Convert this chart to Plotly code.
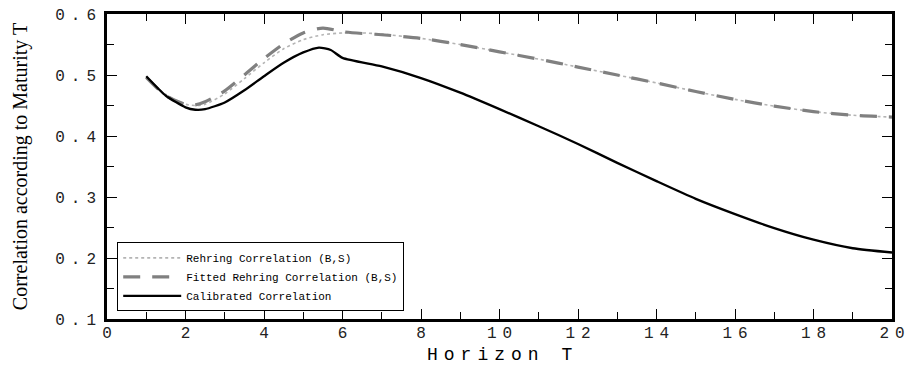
import plotly.graph_objects as go

# ---- data ----
x_cal = [1.0, 1.5, 2.0, 2.25, 2.5, 3.0, 3.5, 4.0, 4.5, 5.0, 5.4, 5.7, 6.0,
         7.0, 8.0, 9.0, 10.0, 11.0, 12.0, 13.0, 14.0, 15.0, 16.0, 17.0, 18.0, 19.0, 20.0]
y_cal = [0.498, 0.466, 0.447, 0.443, 0.444, 0.455, 0.475, 0.498, 0.520, 0.537, 0.545, 0.541, 0.528,
         0.514, 0.495, 0.471, 0.444, 0.416, 0.387, 0.356, 0.326, 0.297, 0.272, 0.249, 0.230, 0.216, 0.209]

x_reh = [1.0, 1.5, 2.0, 2.3, 2.5, 3.0, 3.5, 4.0, 4.5, 5.0, 5.5, 6.0, 6.5, 7.0,
         8.0, 9.0, 10.0, 11.0, 12.0, 13.0, 14.0, 15.0, 16.0, 17.0, 18.0, 19.0, 20.0]
y_reh = [0.495, 0.468, 0.452, 0.450, 0.452, 0.469, 0.494, 0.520, 0.543, 0.558, 0.566, 0.569, 0.569, 0.567,
         0.560, 0.550, 0.538, 0.526, 0.513, 0.500, 0.487, 0.473, 0.460, 0.449, 0.440, 0.434, 0.431]

x_fit = [1.0, 1.5, 2.0, 2.25, 2.5, 3.0, 3.5, 4.0, 4.5, 5.0, 5.5, 6.0, 6.5, 7.0,
         8.0, 9.0, 10.0, 11.0, 12.0, 13.0, 14.0, 15.0, 16.0, 17.0, 18.0, 19.0, 20.0]
y_fit = [0.496, 0.466, 0.452, 0.451, 0.456, 0.474, 0.500, 0.527, 0.551, 0.569, 0.577, 0.571, 0.568, 0.566,
         0.560, 0.550, 0.538, 0.526, 0.513, 0.500, 0.487, 0.473, 0.460, 0.449, 0.440, 0.434, 0.431]

x_ticks = [0, 2, 4, 6, 8, 10, 12, 14, 16, 18, 20]
y_ticks = [0.1, 0.2, 0.3, 0.4, 0.5, 0.6]
x_tick_labels = [str(v) for v in x_ticks]
y_tick_labels = ["0.1", "0.2", "0.3", "0.4", "0.5", "0.6"]

names = ["Rehring Correlation (B,S)", "Fitted Rehring Correlation (B,S)", "Calibrated Correlation"]
x_title = "Horizon T"
y_title = "Correlation according to Maturity T"


def spaced(t, px):
    # letter-spacing on all but the last character so the text stays centred
    if len(t) < 2:
        return t
    return f"<span style='letter-spacing:{px}px'>{t[:-1]}</span>{t[-1]}"


fig = go.Figure()
fig.add_trace(go.Scatter(x=x_reh, y=y_reh, mode="lines", name=names[0],
                         line=dict(color="#b4b4b4", width=1.6, dash="dot", shape="spline", smoothing=0.7)))
fig.add_trace(go.Scatter(x=x_fit, y=y_fit, mode="lines", name=names[1],
                         line=dict(color="#808080", width=3.2, dash="17px,12px", shape="spline", smoothing=0.7)))
fig.add_trace(go.Scatter(x=x_cal, y=y_cal, mode="lines", name=names[2],
                         line=dict(color="black", width=2.3, shape="spline", smoothing=0.6)))

tickfont = dict(family="Liberation Mono", size=16, color="#222")

fig.update_layout(
    width=909, height=366,
    margin=dict(l=107, r=17, t=14, b=47),
    paper_bgcolor="white", plot_bgcolor="white",
    showlegend=True,
    legend=dict(x=0.013, y=0.025, xanchor="left", yanchor="bottom",
                bordercolor="black", borderwidth=1, bgcolor="white",
                font=dict(family="Liberation Mono", size=11, color="black"),
                itemwidth=58, tracegroupgap=0),
    xaxis=dict(range=[0, 20], tickmode="array", tickvals=x_ticks,
               ticktext=[spaced(t, 6) for t in x_tick_labels],
               ticks="inside", ticklen=10, tickwidth=1.2, tickcolor="black",
               minor=dict(tickmode="linear", tick0=0, dtick=1, ticks="inside", ticklen=7,
                          tickwidth=1, tickcolor="black"),
               showline=True, linecolor="black", linewidth=2.5, mirror="ticks",
               showgrid=False, zeroline=False, tickfont=tickfont, automargin=False,
               ticklabelstandoff=-3, layer="above traces"),
    yaxis=dict(range=[0.1, 0.6], tickmode="array", tickvals=y_ticks,
               ticktext=[spaced(t, 6) for t in y_tick_labels],
               ticks="inside", ticklen=10, tickwidth=1.2, tickcolor="black",
               minor=dict(tickmode="linear", tick0=0.1, dtick=0.05, ticks="inside", ticklen=7,
                          tickwidth=1, tickcolor="black"),
               showline=True, linecolor="black", linewidth=2.5, mirror="ticks",
               showgrid=False, zeroline=False, tickfont=tickfont, automargin=False,
               ticklabelstandoff=5, layer="above traces"),
    annotations=[
        dict(text=spaced(x_title, 6), xref="paper", yref="paper", x=0.5, y=-0.118,
             xanchor="center", yanchor="middle", showarrow=False,
             font=dict(family="Liberation Mono", size=18, color="black")),
        dict(text=y_title, xref="paper", yref="paper", x=-0.11, y=0.5, textangle=-90,
             xanchor="center", yanchor="middle", showarrow=False,
             font=dict(family="Liberation Serif", size=20, color="black")),
    ],
)

fig.write_html("out.html")
